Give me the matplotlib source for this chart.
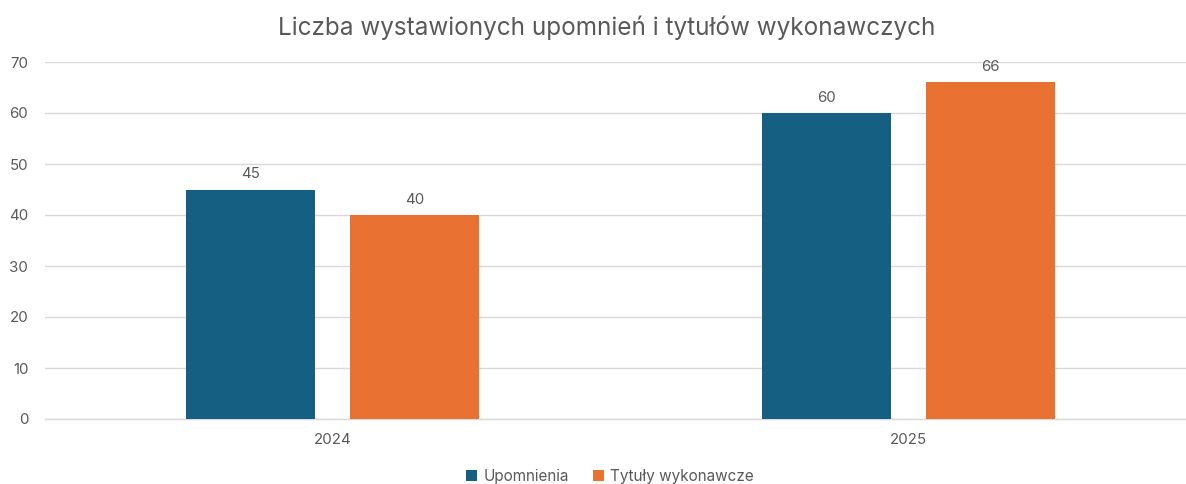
import matplotlib
matplotlib.use("Agg")
import matplotlib.pyplot as plt
import numpy as np

plt.rcParams['font.family'] = ['Inter', 'DejaVu Sans']

categories = ["2024", "2025"]
series_names = ["Upomnienia", "Tytuły wykonawcze"]
upomnienia = [45, 60]
tytuly = [40, 66]
yticks = [0, 10, 20, 30, 40, 50, 60, 70]
title = "Liczba wystawionych upomnień i tytułów wykonawczych"

colors = ["#156082", "#E97132"]
text_color = "#595959"
grid_color = "#D9D9D9"

fig = plt.figure(figsize=(11.86, 4.84), dpi=100)
ax = fig.add_axes([45/1186, 1-419/484, (1186-45)/1186, (419-62)/484])

x = np.arange(len(categories))
w = 0.224
off = 0.1425
b1 = ax.bar(x - off, upomnienia, w, color=colors[0], label=series_names[0], zorder=3)
b2 = ax.bar(x + off, tytuly, w, color=colors[1], label=series_names[1], zorder=3)

for bars in (b1, b2):
    for r in bars:
        ax.annotate(f"{int(r.get_height())}", (r.get_x() + r.get_width()/2, r.get_height()),
                    xytext=(0, 6), textcoords="offset points", ha="center", va="bottom",
                    fontsize=10.8, color=text_color)

ax.set_xlim(-0.5, 1.483)
ax.set_ylim(0, 70)
ax.set_yticks(yticks)
ax.set_xticks(x)
ax.set_xticklabels(categories)
ax.tick_params(axis='both', length=0, labelsize=10.8, colors=text_color)
ax.tick_params(axis='y', pad=12)
ax.tick_params(axis='x', pad=10)
ax.grid(axis='y', color=grid_color, linewidth=1, zorder=0)
for s in ["top", "right", "left"]:
    ax.spines[s].set_visible(False)
ax.spines["bottom"].set_color(grid_color)
ax.spines["bottom"].set_linewidth(1)

fig.text(607/1186, 1-28/484, title, ha="center", va="center", fontsize=17.5, color=text_color)

leg = fig.legend(loc="center", bbox_to_anchor=(610/1186, 1-476/484), ncol=2, frameon=False,
                 fontsize=11, handlelength=0.7, handleheight=0.7, handletextpad=0.4,
                 columnspacing=1.6, labelcolor=text_color)

fig.savefig("out.png", dpi=100, facecolor="white")
